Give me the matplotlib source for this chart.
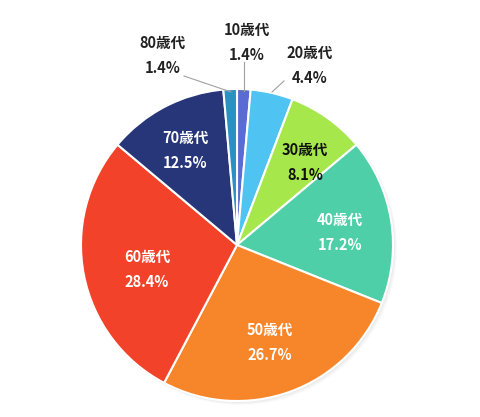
import numpy as np
import matplotlib.pyplot as plt
from matplotlib.patches import Circle

plt.rcParams['font.family'] = ['Noto Sans CJK JP', 'DejaVu Sans']

# Age groups and share (%)
labels = ["10歳代", "20歳代", "30歳代", "40歳代", "50歳代", "60歳代", "70歳代", "80歳代"]
shares = [1.4, 4.4, 8.1, 17.2, 26.7, 28.4, 12.5, 1.4]

colors = ["#5a6bd4", "#4fc4f2", "#a6e84c", "#4ecfa8",
          "#f7862a", "#f2432a", "#263679", "#2b90c2"]
text_colors = ["#222222", "#222222", "#111111", "white",
               "white", "white", "white", "#222222"]

# label positions in pixel coords (x, y from top)
label_pos = [(247, 30), (310, 53), (305, 150), (340, 220),
             (270, 330), (147, 257), (185, 138), (163, 43)]
# leader lines for the small outside labels: (text end, wedge edge)
leaders = {0: ((244, 62), (244, 91)),
           1: ((284, 81), (272, 92)),
           7: ((184, 76), (231, 92))}

W, H = 480, 417
cx, cy, r = 237, 245, 156

fig = plt.figure(figsize=(4.8, 4.17), dpi=100)
ax = fig.add_axes([0, 0, 1, 1])
ax.set_xlim(0, W)
ax.set_ylim(0, H)
ax.set_aspect('equal')
ax.axis('off')

# soft shadow
for i, a in enumerate([0.05, 0.05, 0.04]):
    ax.add_patch(Circle((cx + 1.5 + i, H - cy - 1.5 - i), r + 0.5, color='gray', alpha=a, lw=0))

ax.pie(shares, colors=colors, startangle=90, counterclock=False,
       center=(cx, H - cy), radius=r, frame=True,
       wedgeprops=dict(edgecolor='white', linewidth=1.5))
ax.set_xlim(0, W)
ax.set_ylim(0, H)
ax.axis('off')

for i, (lab, val) in enumerate(zip(labels, shares)):
    x, y = label_pos[i]
    ax.text(x, H - y, lab, color=text_colors[i], fontsize=10.5,
            fontweight='bold', ha='center', va='center')
    ax.text(x, H - y - 25, f"{val}%", color=text_colors[i], fontsize=10.5,
            fontweight='bold', ha='center', va='center')

for i, ((x1, y1), (x2, y2)) in leaders.items():
    ax.plot([x1, x2], [H - y1, H - y2], color='#a0a0a0', lw=0.8)

fig.savefig("out.png", dpi=100)
